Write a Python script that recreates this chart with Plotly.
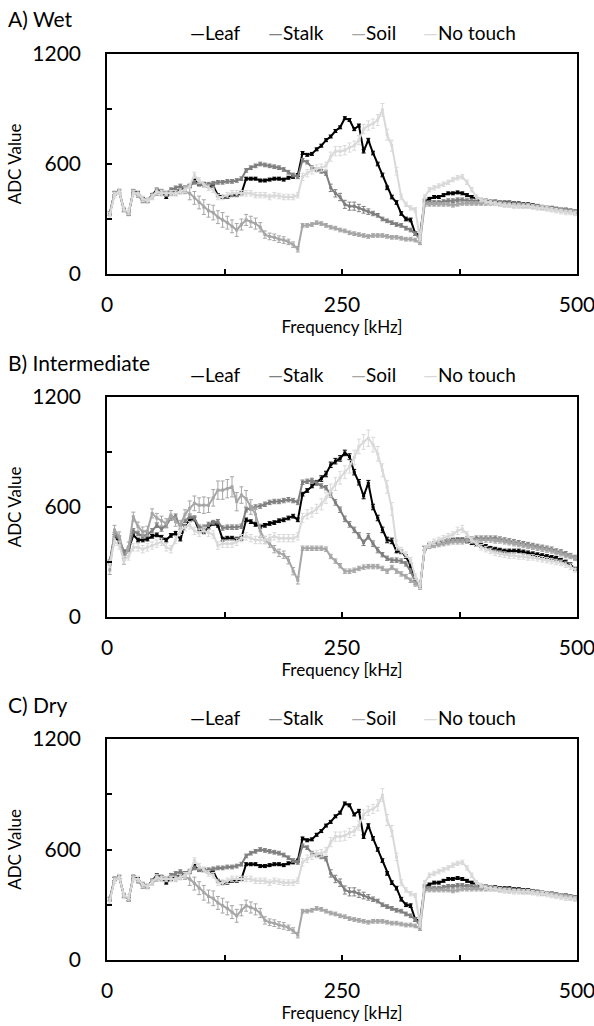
import plotly.graph_objects as go

# ---------------- data ----------------
freq = list(range(3, 500, 5))  # kHz, 100 sweep points
series_names = ["Leaf", "Stalk", "Soil", "No touch"]
series_colors = ["#000000", "#7f7f7f", "#a6a6a6", "#d9d9d9"]
panel_titles = ["A) Wet", "B) Intermediate", "C) Dry"]
x_tickvals = [0, 125, 250, 375, 500]
x_ticktext = ["0", "", "250", "", "500"]
y_tickvals = [0, 300, 600, 900, 1200]
y_ticktext = ["0", "", "600", "", "1200"]

wet_leaf = [
    330, 440, 450, 350, 330, 450, 440, 410, 400, 430,
    460, 450, 420, 440, 450, 460, 470, 480, 510, 490,
    490, 480, 480, 430, 420, 420, 430, 430, 440, 520,
    520, 520, 510, 510, 515, 520, 520, 515, 525, 530,
    540, 660, 650, 655, 680, 700, 730, 750, 780, 800,
    850, 840, 790, 810, 670, 730, 660, 600, 540, 470,
    420, 390, 330, 300, 295, 220, 215, 400, 410, 420,
    420, 430, 440, 440, 445, 440, 430, 420, 410, 400,
    400, 395, 395, 390, 390, 390, 385, 385, 380, 380,
    375, 370, 365, 360, 360, 355, 350, 350, 345, 340]
wet_stalk = [
    330, 440, 450, 350, 330, 450, 430, 400, 400, 430,
    450, 440, 440, 460, 470, 480, 470, 480, 500, 490,
    485, 490, 495, 500, 500, 505, 505, 510, 520, 565,
    580, 590, 600, 595, 590, 585, 580, 570, 555, 540,
    530, 620, 610, 580, 570, 560, 550, 470, 440, 420,
    380, 370, 370, 360, 350, 340, 330, 320, 300, 290,
    280, 270, 265, 250, 240, 220, 190, 390, 390, 390,
    390, 395, 400, 400, 405, 405, 400, 400, 395, 395,
    395, 390, 390, 385, 385, 385, 380, 380, 375, 375,
    370, 370, 365, 360, 360, 355, 350, 350, 345, 340]
wet_soil = [
    330, 440, 450, 350, 330, 450, 430, 400, 400, 420,
    440, 450, 440, 440, 440, 450, 450, 440, 415, 390,
    365, 345, 335, 310, 295, 280, 260, 240, 270, 295,
    285, 275, 255, 215, 205, 200, 190, 185, 175, 160,
    135, 265, 265, 270, 280, 275, 265, 255, 250, 240,
    235, 225, 220, 215, 210, 205, 210, 210, 210, 205,
    200, 200, 195, 190, 190, 185, 170, 380, 380, 380,
    380, 380, 380, 375, 380, 385, 385, 385, 385, 385,
    385, 385, 385, 380, 380, 375, 375, 375, 370, 370,
    370, 365, 360, 360, 355, 350, 350, 345, 340, 335]
wet_touch = [
    320, 430, 450, 350, 340, 440, 440, 410, 400, 420,
    450, 440, 440, 440, 440, 450, 460, 480, 540, 510,
    490, 470, 460, 420, 420, 430, 440, 440, 440, 440,
    440, 430, 430, 430, 420, 430, 425, 420, 420, 420,
    430, 530, 550, 565, 575, 580, 590, 640, 670, 670,
    675, 690, 700, 730, 790, 810, 820, 840, 895, 760,
    700, 560, 420, 380, 360, 350, 190, 420, 460, 470,
    480, 490, 500, 515, 525, 530, 500, 460, 420, 405,
    395, 390, 385, 380, 375, 375, 370, 370, 370, 370,
    365, 360, 360, 355, 350, 345, 340, 335, 335, 330]

wet_leaf_err = [
    8, 8, 8, 8, 8, 8, 8, 8, 8, 8,
    8, 8, 8, 8, 8, 8, 8, 8, 8, 8,
    8, 8, 8, 8, 8, 8, 8, 8, 8, 8,
    8, 8, 8, 8, 8, 8, 8, 8, 8, 8,
    8, 8, 8, 8, 8, 8, 8, 8, 8, 8,
    8, 8, 8, 8, 10, 10, 10, 10, 10, 10,
    10, 10, 10, 10, 10, 10, 10, 8, 8, 8,
    8, 8, 8, 8, 8, 8, 8, 8, 8, 8,
    8, 8, 8, 8, 8, 8, 8, 8, 8, 8,
    8, 8, 8, 8, 8, 8, 8, 8, 8, 8]
wet_stalk_err = [
    10, 10, 10, 10, 10, 10, 10, 10, 10, 10,
    10, 10, 10, 10, 10, 10, 10, 10, 10, 10,
    10, 10, 10, 10, 10, 10, 10, 10, 10, 10,
    10, 10, 10, 10, 10, 10, 10, 10, 10, 10,
    10, 10, 10, 10, 10, 10, 12, 20, 20, 20,
    22, 22, 22, 20, 18, 15, 12, 10, 10, 10,
    10, 10, 10, 10, 10, 10, 10, 10, 10, 10,
    10, 10, 10, 10, 10, 10, 10, 10, 10, 10,
    10, 10, 10, 10, 10, 10, 10, 10, 10, 10,
    10, 10, 10, 10, 10, 10, 10, 10, 10, 10]
wet_soil_err = [
    12, 12, 12, 12, 12, 12, 12, 12, 12, 12,
    12, 12, 12, 12, 12, 12, 12, 35, 35, 35,
    40, 35, 40, 35, 40, 35, 35, 35, 30, 30,
    30, 30, 25, 20, 18, 18, 18, 18, 15, 15,
    15, 10, 10, 10, 10, 10, 10, 10, 10, 10,
    10, 10, 10, 10, 10, 10, 10, 10, 10, 10,
    10, 10, 10, 10, 10, 10, 10, 10, 10, 10,
    10, 10, 10, 10, 10, 10, 10, 10, 10, 10,
    10, 10, 10, 10, 10, 10, 10, 10, 10, 10,
    10, 10, 10, 10, 10, 10, 10, 10, 10, 10]
wet_touch_err = [
    15, 15, 15, 15, 15, 15, 15, 15, 15, 15,
    15, 15, 15, 15, 15, 15, 15, 15, 15, 15,
    15, 15, 15, 15, 15, 15, 15, 15, 15, 15,
    15, 15, 15, 15, 15, 15, 15, 15, 15, 15,
    15, 20, 20, 20, 20, 20, 20, 25, 25, 25,
    25, 25, 25, 25, 25, 25, 25, 30, 35, 30,
    30, 20, 15, 12, 12, 12, 12, 12, 12, 12,
    12, 12, 12, 12, 12, 12, 12, 12, 12, 12,
    12, 12, 12, 12, 12, 12, 12, 12, 12, 12,
    12, 12, 12, 12, 12, 12, 12, 12, 12, 12]

int_leaf = [
    300, 440, 410, 330, 366, 448, 420, 420, 425, 440,
    448, 435, 420, 445, 457, 425, 500, 530, 535, 470,
    462, 490, 510, 500, 425, 430, 430, 425, 430, 530,
    520, 505, 495, 500, 510, 515, 525, 530, 540, 550,
    530, 670, 690, 715, 735, 755, 780, 830, 850, 865,
    895, 875, 790, 735, 660, 730, 600, 540, 475, 420,
    415, 360, 355, 330, 280, 200, 165, 375, 390, 400,
    405, 410, 415, 420, 420, 420, 415, 405, 395, 390,
    385, 375, 370, 365, 360, 360, 360, 360, 355, 350,
    345, 340, 335, 330, 325, 320, 310, 300, 285, 265]
int_stalk = [
    300, 450, 430, 355, 370, 470, 455, 440, 450, 470,
    500, 480, 500, 540, 550, 490, 520, 550, 540, 490,
    490, 505, 515, 520, 485, 490, 490, 490, 495, 585,
    595, 600, 605, 615, 625, 630, 630, 635, 640, 635,
    625, 735, 740, 745, 730, 715, 705, 665, 625, 585,
    535, 505, 475, 445, 405, 440, 400, 365, 340, 320,
    310, 310, 305, 290, 250, 190, 165, 375, 390, 400,
    405, 410, 415, 420, 420, 420, 425, 425, 430, 430,
    430, 430, 430, 425, 420, 415, 410, 405, 400, 395,
    390, 385, 380, 375, 370, 360, 355, 345, 335, 325]
int_soil = [
    257, 475, 439, 312, 384, 547, 493, 466, 470, 565,
    540, 525, 511, 556, 520, 502, 560, 593, 620, 610,
    610, 610, 650, 692, 692, 700, 710, 629, 665, 645,
    600, 560, 470, 420, 400, 370, 350, 340, 310, 250,
    200, 375, 375, 375, 375, 375, 370, 330, 305, 280,
    250, 250, 255, 265, 272, 275, 275, 275, 265, 250,
    270, 250, 235, 220, 200, 180, 165, 375, 385, 390,
    395, 400, 405, 410, 410, 410, 415, 415, 415, 420,
    420, 420, 415, 415, 410, 405, 400, 395, 390, 385,
    380, 375, 370, 365, 360, 350, 345, 335, 330, 320]
int_touch = [
    290, 410, 390, 310, 330, 380, 380, 370, 380, 390,
    400, 410, 380, 370, 420, 470, 490, 500, 470, 460,
    470, 460, 450, 390, 400, 400, 400, 410, 430, 440,
    430, 420, 420, 420, 430, 440, 430, 430, 430, 430,
    440, 540, 560, 570, 590, 615, 650, 690, 725, 760,
    790, 820, 870, 930, 955, 975, 940, 890, 800, 710,
    590, 390, 360, 340, 310, 220, 170, 375, 395, 410,
    420, 430, 440, 450, 470, 480, 450, 420, 400, 380,
    370, 360, 350, 345, 340, 335, 335, 330, 330, 325,
    325, 320, 315, 310, 305, 300, 295, 285, 275, 260]

int_leaf_err = [
    10, 10, 10, 10, 10, 10, 10, 10, 10, 10,
    10, 10, 10, 10, 10, 10, 10, 10, 10, 10,
    10, 10, 10, 10, 10, 10, 10, 10, 10, 10,
    10, 10, 10, 10, 10, 10, 10, 10, 10, 10,
    10, 10, 10, 10, 10, 15, 15, 15, 15, 15,
    15, 15, 15, 15, 15, 15, 15, 15, 15, 15,
    15, 10, 10, 10, 10, 10, 10, 10, 10, 10,
    10, 10, 10, 10, 10, 10, 10, 10, 10, 10,
    10, 10, 10, 10, 10, 10, 10, 10, 10, 10,
    10, 10, 10, 10, 10, 10, 10, 10, 10, 10]
int_stalk_err = [
    12, 12, 12, 12, 12, 12, 12, 12, 12, 12,
    12, 12, 12, 12, 12, 12, 12, 12, 12, 12,
    12, 12, 12, 12, 12, 12, 12, 12, 12, 12,
    12, 12, 12, 12, 12, 12, 12, 12, 12, 12,
    12, 12, 12, 12, 12, 12, 12, 12, 15, 15,
    15, 15, 15, 15, 15, 15, 15, 15, 12, 12,
    12, 12, 12, 12, 12, 12, 12, 12, 12, 12,
    12, 12, 12, 12, 12, 12, 12, 12, 12, 12,
    12, 12, 12, 12, 12, 12, 12, 12, 12, 12,
    12, 12, 12, 12, 12, 12, 12, 12, 12, 12]
int_soil_err = [
    25, 25, 25, 25, 25, 25, 25, 25, 25, 25,
    25, 25, 25, 25, 25, 25, 25, 40, 40, 40,
    45, 40, 45, 50, 50, 50, 55, 50, 45, 45,
    40, 40, 35, 20, 20, 20, 20, 20, 20, 20,
    20, 12, 12, 12, 12, 12, 12, 12, 12, 12,
    12, 12, 12, 12, 12, 12, 12, 12, 12, 12,
    12, 12, 12, 12, 12, 12, 12, 12, 12, 12,
    12, 12, 12, 12, 12, 12, 12, 12, 12, 12,
    12, 12, 12, 12, 12, 12, 12, 12, 12, 12,
    12, 12, 12, 12, 12, 12, 12, 12, 12, 12]
int_touch_err = [
    20, 20, 20, 20, 20, 20, 20, 20, 20, 20,
    20, 20, 20, 20, 20, 20, 20, 20, 20, 20,
    20, 20, 20, 20, 20, 20, 20, 20, 20, 20,
    20, 20, 20, 20, 20, 20, 20, 20, 20, 20,
    20, 25, 25, 25, 25, 30, 30, 35, 35, 35,
    35, 35, 40, 40, 40, 45, 40, 40, 35, 35,
    35, 25, 20, 15, 15, 15, 15, 15, 15, 15,
    15, 15, 15, 15, 20, 20, 15, 15, 15, 15,
    15, 15, 15, 15, 15, 15, 15, 15, 15, 15,
    15, 15, 15, 15, 15, 15, 15, 15, 15, 15]

# Dry condition (reads identical to the wet panel in the source figure)
dry_leaf = list(wet_leaf)
dry_stalk = list(wet_stalk)
dry_soil = list(wet_soil)
dry_touch = list(wet_touch)
dry_leaf_err = list(wet_leaf_err)
dry_stalk_err = list(wet_stalk_err)
dry_soil_err = list(wet_soil_err)
dry_touch_err = list(wet_touch_err)

# ---------------- figure ----------------
W, H = 594, 1026
FONT = "Lato"
TXT = "#000000"

panels = [
    dict(title=panel_titles[0], top=54, bottom=274, title_y=18, leg_y=32,
         vals=[wet_leaf, wet_stalk, wet_soil, wet_touch],
         errs=[wet_leaf_err, wet_stalk_err, wet_soil_err, wet_touch_err]),
    dict(title=panel_titles[1], top=397, bottom=617, title_y=362, leg_y=375,
         vals=[int_leaf, int_stalk, int_soil, int_touch],
         errs=[int_leaf_err, int_stalk_err, int_soil_err, int_touch_err]),
    dict(title=panel_titles[2], top=739, bottom=960, title_y=704, leg_y=717,
         vals=[dry_leaf, dry_stalk, dry_soil, dry_touch],
         errs=[dry_leaf_err, dry_stalk_err, dry_soil_err, dry_touch_err]),
]
legend_x = [188, 266, 349, 421]

fig = go.Figure()
annotations = []
layout_axes = {}
for i, p in enumerate(panels):
    sfx = "" if i == 0 else str(i + 1)
    for name, col, vals, errs in zip(series_names, series_colors, p["vals"], p["errs"]):
        fig.add_trace(go.Scatter(
            x=freq, y=vals, name=name, mode="lines+markers",
            line=dict(color=col, width=2),
            marker=dict(symbol="square", size=3, color=col),
            error_y=dict(type="data", array=errs, color=col, thickness=1, width=2),
            xaxis="x" + sfx, yaxis="y" + sfx, showlegend=False,
        ))
    common = dict(showline=True, linecolor="#000000", linewidth=1.6, mirror=True,
                  ticks="inside", ticklen=5, tickcolor="#000000", tickwidth=1.6,
                  showgrid=False, zeroline=False, automargin=False,
                  ticklabeloverflow="allow",
                  tickfont=dict(family=FONT, size=21, color=TXT))
    layout_axes["xaxis" + sfx] = dict(
        common, domain=[107 / W, 577 / W], anchor="y" + sfx, range=[0, 500],
        tickvals=x_tickvals, ticktext=x_ticktext, ticklabelstandoff=11,
        title=dict(text="Frequency [kHz]", font=dict(family=FONT, size=17, color=TXT), standoff=5))
    layout_axes["yaxis" + sfx] = dict(
        common, domain=[1 - p["bottom"] / H, 1 - p["top"] / H], anchor="x" + sfx,
        range=[0, 1200], tickvals=y_tickvals, ticktext=y_ticktext, ticklabelstandoff=20,
        title=dict(text="ADC Value", font=dict(family=FONT, size=17, color=TXT), standoff=6))
    annotations.append(dict(
        text=p["title"], x=6 / W, y=1 - p["title_y"] / H, xref="paper", yref="paper",
        xanchor="left", yanchor="middle", showarrow=False,
        font=dict(family=FONT, size=21, color=TXT)))
    for lx, name, col in zip(legend_x, series_names, series_colors):
        annotations.append(dict(
            text=f'<span style="color:{col}">—</span>{name}',
            x=lx / W, y=1 - p["leg_y"] / H, xref="paper", yref="paper",
            xanchor="left", yanchor="middle", showarrow=False,
            font=dict(family=FONT, size=19, color=TXT)))

fig.update_layout(
    width=W, height=H, margin=dict(l=0, r=0, t=0, b=0),
    paper_bgcolor="#ffffff", plot_bgcolor="#ffffff",
    annotations=annotations, **layout_axes,
)
fig.write_html("out.html", config={"displayModeBar": False},
               post_script="document.body.style.margin='0px';document.body.style.overflow='hidden';")
